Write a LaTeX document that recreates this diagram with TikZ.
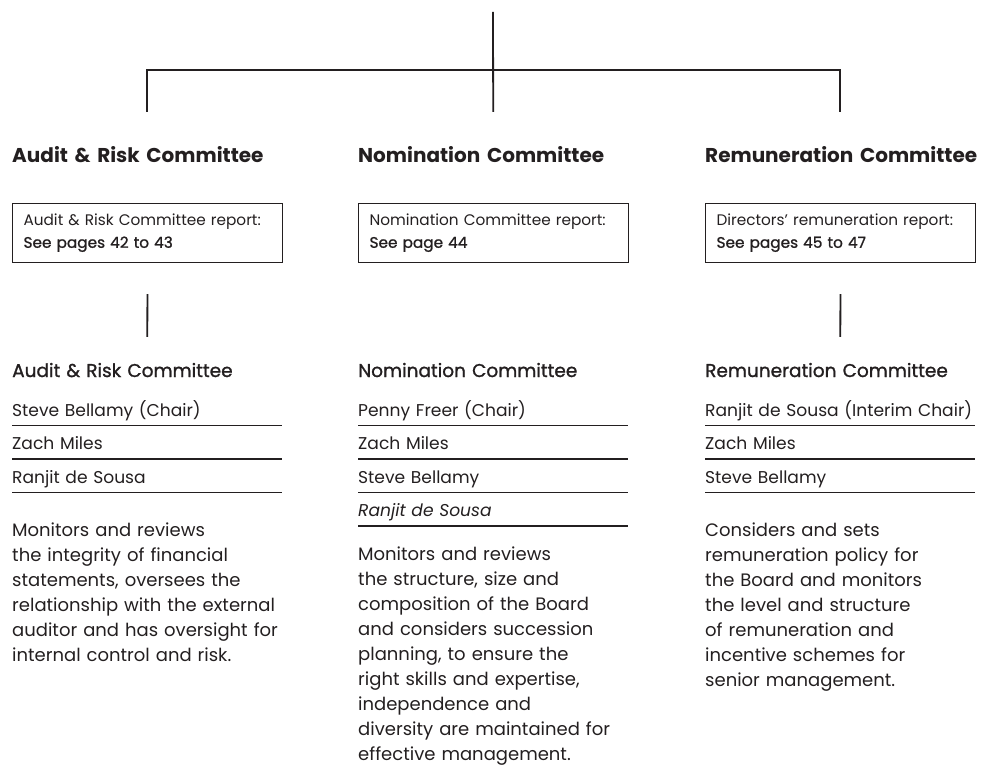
\documentclass[tikz,border=0pt]{standalone}
\usepackage{fontspec}
\setmainfont{Poppins}
\newfontfamily\medfont[FakeBold=1.2]{Poppins}
\usetikzlibrary{positioning}
\definecolor{ink}{HTML}{231F20}

\begin{document}
\begin{tikzpicture}[
        x=1pt, y=-1pt,
        text=ink,
        link/.style={line width=1.8pt, draw=ink},
        head/.style={
            font=\fontsize{20}{24}\selectfont\bfseries,
            text width=270pt, inner sep=0pt,
            text height=15pt, text depth=0pt, align=left
        },
        report/.style={
            draw=ink, line width=1.1pt,
            text width=248pt, inner xsep=11pt, inner ysep=0pt,
            minimum height=59pt, align=left,
            font=\fontsize{15.3}{22}\selectfont
        },
        sub/.style={
            font=\fontsize{18.5}{22}\selectfont\medfont,
            text width=270pt, inner sep=0pt,
            text height=13pt, text depth=0pt, align=left
        },
        member/.style={
            font=\fontsize{17.1}{20}\selectfont,
            text width=270pt, inner sep=0pt,
            text height=12pt, text depth=9pt, align=left
        },
        rule/.style={line width=1.6pt, draw=ink},
        desc/.style={
            font=\fontsize{18}{25}\selectfont,
            text width=270pt, inner sep=0pt, align=left
        }
    ]
    \useasboundingbox (0,0) rectangle (981,767);

    % =========================
    % Committee headings
    % =========================
    \node[head, anchor=base west] (audhead) at (12,163)  {\mbox{Audit \& Risk Committee}};
    \node[head, anchor=base west] (nomhead) at (358,163) {\mbox{Nomination Committee}};
    \node[head, anchor=base west] (remhead) at (705,163) {\mbox{Remuneration Committee}};

    % tree above the headings
    \coordinate (root)   at (493,12);
    \coordinate (audtop) at ([yshift=36]audhead.north);
    \coordinate (nomtop) at ([yshift=36]nomhead.north);
    \coordinate (remtop) at ([yshift=36]remhead.north);
    \coordinate (bar)    at (root |- 0,70);

    \draw[link] (root) -- (nomtop);
    \draw[link] (audtop) |- (bar) -| (remtop);

    % =========================
    % Report boxes
    % =========================
    \node[report, anchor=north west] (audbox) at (12,203)
        {Audit \& Risk Committee report:\\{\medfont See pages 42 to 43}};
    \node[report, anchor=north west] (nombox) at (358,203)
        {Nomination Committee report:\\{\medfont See page 44}};
    \node[report, anchor=north west] (rembox) at (705,203)
        {Directors’ remuneration report:\\{\medfont See pages 45 to 47}};

    % =========================
    % Members
    % =========================
    \node[sub, anchor=base west] (audsub) at (12,377)  {Audit \& Risk Committee};
    \node[sub, anchor=base west] (nomsub) at (358,377) {Nomination Committee};
    \node[sub, anchor=base west] (remsub) at (705,377) {Remuneration Committee};

    \draw[link, shorten <=31pt, shorten >=27pt] (audbox.south) -- (audsub.north);
    \draw[link, shorten <=31pt, shorten >=27pt] (rembox.south) -- (remsub.north);

    \node[member, below=27pt of audsub] (aud1) {Steve Bellamy (Chair)};
    \node[member, below=12pt of aud1]   (aud2) {Zach Miles};
    \node[member, below=12pt of aud2]   (aud3) {Ranjit de Sousa};

    \node[member, below=27pt of nomsub] (nom1) {Penny Freer (Chair)};
    \node[member, below=12pt of nom1]   (nom2) {Zach Miles};
    \node[member, below=12pt of nom2]   (nom3) {Steve Bellamy};
    \node[member, below=12pt of nom3]   (nom4) {\itshape Ranjit de Sousa};

    \node[member, below=27pt of remsub] (rem1) {\mbox{Ranjit de Sousa (Interim Chair)}};
    \node[member, below=12pt of rem1]   (rem2) {Zach Miles};
    \node[member, below=12pt of rem2]   (rem3) {Steve Bellamy};

    \foreach \m in {aud1,aud2,aud3,nom1,nom2,nom3,nom4,rem1,rem2,rem3}
        \draw[rule] (\m.south west) -- (\m.south east);

    % =========================
    % Remits
    % =========================
    \node[desc, below=30pt of aud3] (auddesc)
        {Monitors and reviews\\
         the integrity of financial\\
         statements, oversees the\\
         relationship with the external\\
         auditor and has oversight for\\
         internal control and risk.};
    \node[desc, below=21pt of nom4] (nomdesc)
        {Monitors and reviews\\
         the structure, size and\\
         composition of the Board\\
         and considers succession\\
         planning, to ensure the\\
         right skills and expertise,\\
         independence and\\
         diversity are maintained for\\
         effective management.};
    \node[desc, below=30pt of rem3] (remdesc)
        {Considers and sets\\
         remuneration policy for\\
         the Board and monitors\\
         the level and structure\\
         of remuneration and\\
         incentive schemes for\\
         senior management.};

\end{tikzpicture}
\end{document}
